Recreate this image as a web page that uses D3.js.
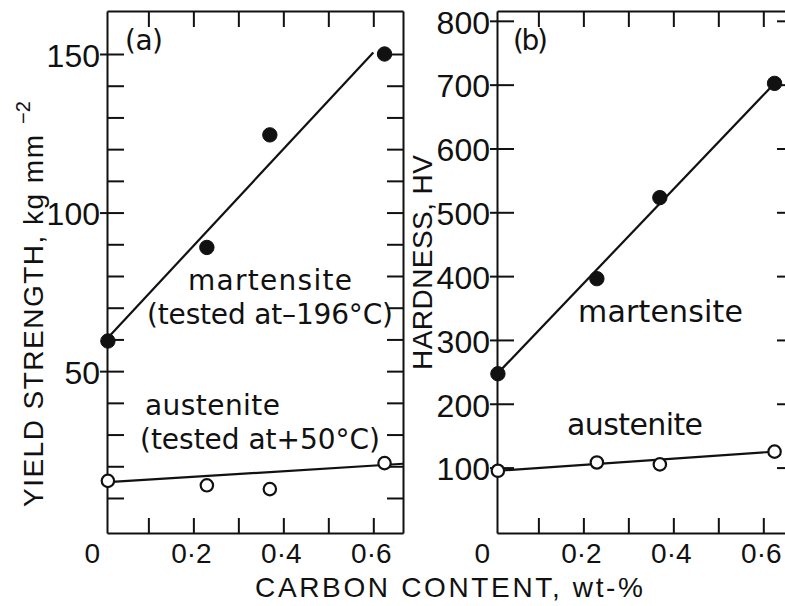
<!DOCTYPE html>
<html>
<head>
<meta charset="utf-8">
<script src="https://cdn.jsdelivr.net/npm/d3@7"></script>
<style>
  html, body { margin: 0; padding: 0; background: #fff; }
  svg { display: block; }
  text { fill: #111; }
</style>
</head>
<body>
<svg id="chart" width="785" height="606"></svg>
<script>
// Carbon content of the steels (wt-%)
const carbon = [0.01, 0.23, 0.37, 0.625];

// (a) yield strength, kg mm^-2
const yieldMartensite = [59.5, 89, 124.5, 150];
const yieldAustenite = [15.4, 14, 12.8, 21];

// (b) Vickers hardness, HV
const hardMartensite = [247, 396, 523, 702];
const hardAustenite = [95, 108, 105, 125];

// Hand-fitted trend lines: [carbon start, carbon end] and [value start, value end]
const fitMartCarbonA = [0.01, 0.6];
const fitMartYieldA = [60.5, 150.5];
const fitAustCarbonA = [0.01, 0.666];
const fitAustYieldA = [15, 20.8];
const fitCarbonB = [0.01, 0.625];
const fitMartHardB = [248, 702];
const fitAustHardB = [95, 125];

// Axis ticks and labels
const xTicks = [0.1, 0.2, 0.3, 0.4, 0.5, 0.6];
const xLabelValues = [0, 0.2, 0.4, 0.6];
const xLabelText = ["0", "0·2", "0·4", "0·6"];
const yMajorA = [50, 100, 150];
const yMinorA = [10, 20, 30, 40, 50, 60, 70, 80, 90, 100, 110, 120, 130, 140, 150];
const yTicksB = [100, 200, 300, 400, 500, 600, 700, 800];

const svg = d3.select("#chart");
const INK = "#111";
const LABEL_FONT = "'Liberation Sans', Arial, sans-serif";
const NOTE_FONT = "'DejaVu Sans', sans-serif";

const plotTop = 11, plotBottom = 533, panelW = 296;
const panelLeftA = 107, panelLeftB = 497;

function xScale(left) {
  return d3.scaleLinear().domain([0.008, 0.666]).range([left, left + panelW]);
}
const xA = xScale(panelLeftA);
const xB = xScale(panelLeftB);
const yA = d3.scaleLinear().domain([-1.04, 163.56]).range([plotBottom, plotTop]);
const yB = d3.scaleLinear().domain([-2.5, 815.4]).range([plotBottom, plotTop]);

function styleAxis(g) {
  g.selectAll("path, line").attr("stroke", INK).attr("stroke-width", 2);
  g.selectAll("text").remove();
}

function frame(x, y, left, opts) {
  const right = left + panelW;
  // bottom axis, ticks pointing up into the plot
  svg.append("g").attr("transform", `translate(0,${plotBottom})`)
    .call(d3.axisTop(x).tickValues(xTicks).tickSize(15).tickSizeOuter(0).tickFormat(""))
    .call(styleAxis);
  // top axis, ticks pointing down
  svg.append("g").attr("transform", `translate(0,${plotTop})`)
    .call(d3.axisBottom(x).tickValues(xTicks).tickSize(16).tickSizeOuter(0).tickFormat(""))
    .call(styleAxis);
  // left axis, inward ticks
  svg.append("g").attr("transform", `translate(${left},0)`)
    .call(d3.axisRight(y).tickValues(opts.leftInner).tickSize(17).tickSizeOuter(0).tickFormat(""))
    .call(styleAxis);
  // left axis, outward stubs on labelled ticks + labels
  const lab = svg.append("g").attr("transform", `translate(${left},0)`)
    .call(d3.axisLeft(y).tickValues(opts.major).tickSize(7).tickPadding(0).tickSizeOuter(0));
  lab.select(".domain").remove();
  lab.selectAll("line").attr("stroke", INK).attr("stroke-width", 2);
  lab.selectAll("text")
    .attr("font-family", LABEL_FONT).attr("font-size", 32)
    .attr("fill", INK).attr("y", 2);
  // right axis, inward ticks
  svg.append("g").attr("transform", `translate(${right},0)`)
    .call(d3.axisLeft(y).tickValues(opts.rightTicks).tickSize(16).tickSizeOuter(0).tickFormat(""))
    .call(styleAxis);
  // x tick labels
  svg.append("g").selectAll("text").data(xLabelValues).join("text")
    .attr("x", (d) => x(d) + (d === 0 ? -11 : -2))
    .attr("y", 563)
    .attr("text-anchor", "middle")
    .attr("font-family", LABEL_FONT).attr("font-size", 28)
    .text((d, i) => xLabelText[i]);
}

frame(xA, yA, panelLeftA, { leftInner: yMinorA, major: yMajorA, rightTicks: yMinorA });
frame(xB, yB, panelLeftB, { leftInner: yTicksB, major: yTicksB, rightTicks: yTicksB });

// trend lines
function fitLine(x, y, xs, ys) {
  const pts = xs.map((c, i) => [c, ys[i]]);
  svg.append("path")
    .attr("d", d3.line().x((d) => x(d[0])).y((d) => y(d[1]))(pts))
    .attr("fill", "none").attr("stroke", INK).attr("stroke-width", 2.2);
}
fitLine(xA, yA, fitMartCarbonA, fitMartYieldA);
fitLine(xA, yA, fitAustCarbonA, fitAustYieldA);
fitLine(xB, yB, fitCarbonB, fitMartHardB);
fitLine(xB, yB, fitCarbonB, fitAustHardB);

// data points
function dots(x, y, values, filled) {
  svg.append("g").selectAll("circle").data(values).join("circle")
    .attr("cx", (d, i) => x(carbon[i]))
    .attr("cy", (d) => y(d))
    .attr("r", filled ? 7.2 : 6.2)
    .attr("fill", filled ? INK : "#fff")
    .attr("stroke", INK).attr("stroke-width", filled ? 1 : 2.2);
}
dots(xA, yA, yieldMartensite, true);
dots(xA, yA, yieldAustenite, false);
dots(xB, yB, hardMartensite, true);
dots(xB, yB, hardAustenite, false);

// annotations
function note(txt, x, y, len, size) {
  svg.append("text")
    .attr("x", x).attr("y", y)
    .attr("font-family", NOTE_FONT).attr("font-size", size || 30)
    .attr("textLength", len).attr("lengthAdjust", "spacing")
    .text(txt);
}
note("(a)", 125, 50, 38, 28);
note("(b)", 513, 50, 35, 28);
note("martensite", 188, 290, 164, 28);
note("(tested at–196°C)", 147, 324, 246, 28);
note("austenite", 145, 415, 135, 28);
note("(tested at+50°C)", 140, 449, 240, 28);
note("martensite", 578, 322, 165);
note("austenite", 567, 435, 136);

// axis titles
svg.append("text")
  .attr("x", 255).attr("y", 597)
  .attr("font-family", LABEL_FONT).attr("font-size", 28)
  .attr("textLength", 388).attr("lengthAdjust", "spacing")
  .text("CARBON CONTENT, wt-%");

svg.append("text")
  .attr("transform", "translate(43,507) rotate(-90)")
  .attr("font-family", LABEL_FONT).attr("font-size", 28)
  .attr("textLength", 372).attr("lengthAdjust", "spacing")
  .text("YIELD STRENGTH, kg mm");
svg.append("text")
  .attr("transform", "translate(30,124) rotate(-90)")
  .attr("font-family", LABEL_FONT).attr("font-size", 20)
  .text("−2");

svg.append("text")
  .attr("transform", "translate(432,370) rotate(-90)")
  .attr("font-family", LABEL_FONT).attr("font-size", 28)
  .attr("textLength", 215).attr("lengthAdjust", "spacing")
  .text("HARDNESS, HV");
</script>
</body>
</html>
